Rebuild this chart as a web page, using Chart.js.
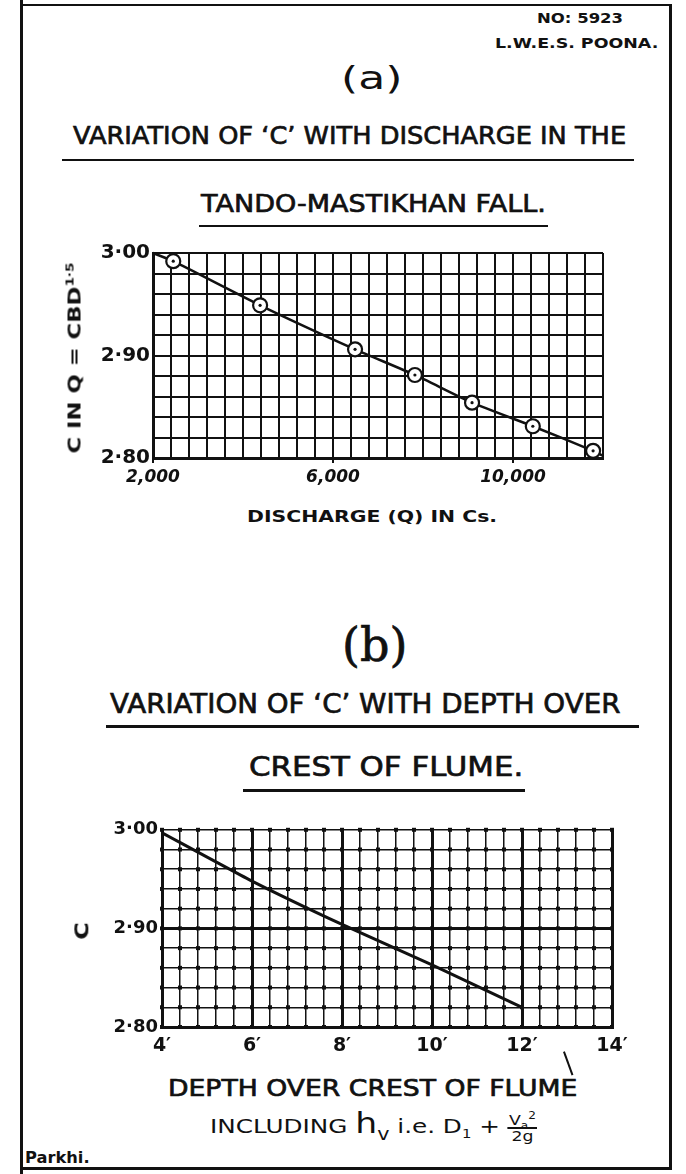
<!DOCTYPE html>
<html>
<head>
<meta charset="utf-8">
<title>Variation of C</title>
<script src="https://cdn.jsdelivr.net/npm/chart.js@4.4.0/dist/chart.umd.min.js"></script>
<style>
  html, body { margin: 0; padding: 0; background: #fff; }
  #sheet { position: relative; width: 686px; height: 1174px; overflow: hidden; background: #fff; color: #111; }
  .txt { position: absolute; white-space: nowrap; line-height: 1; transform-origin: 0 50%; }
  .heavy { -webkit-text-stroke: 0.7px #111; }
  .bar { position: absolute; background: #111; }
  canvas { position: absolute; }
  sup, sub { line-height: 0; }
  .frac { display: inline-block; vertical-align: middle; text-align: center; font-size: 70%; line-height: 1; }
  .frac span { display: block; }
  .frac .top { border-bottom: 2px solid #111; padding: 0 1px; }
</style>
</head>
<body>
<div id="sheet">
  <canvas id="chartA" width="650" height="260" style="left:20px;top:238px"></canvas>
  <canvas id="chartB" width="650" height="250" style="left:20px;top:815px"></canvas>
</div>
<script>
// (a) C against discharge, Tando-Mastikhan fall
const dischargeQ = [2450, 4380, 6490, 7820, 9090, 10440, 11780];
const coeffA = [2.992, 2.949, 2.906, 2.881, 2.854, 2.831, 2.807];
// the faired line runs from corner to corner of the grid
const lineEndsQ = [2000, 12000];
const lineEndsC = [3.000, 2.802];

// (b) C against depth over crest of flume (feet)
const depthFt = [4, 6, 8, 10, 12];
const coeffB = [2.997, 2.948, 2.904, 2.863, 2.820];

// tick labels
const dischargeTicks = [2000, 6000, 10000];
const depthTicks = [4, 6, 8, 10, 12, 14];
const coeffTicks = [2.80, 2.90, 3.00];

const INK = '#111';
const sheet = document.getElementById('sheet');

const inList = (v, list) => list.some(t => Math.abs(t - v) < 1e-6 * Math.max(1, Math.abs(t)));
const coeffLabel = v => inList(v, coeffTicks) ? v.toFixed(2).replace('.', '·') : '';

function text(html, x0, x1, yc, font, cls) {
  const el = document.createElement('div');
  el.className = 'txt' + (cls ? ' ' + cls : '');
  el.style.font = font;
  el.innerHTML = html;
  sheet.appendChild(el);
  el.style.left = x0 + 'px';
  const w = el.offsetWidth, h = el.offsetHeight;
  el.style.top = (yc - h / 2) + 'px';
  el.style.transform = 'scaleX(' + ((x1 - x0) / w) + ')';
  return el;
}

function vtext(html, cx, y0, y1, font) {
  const el = document.createElement('div');
  el.className = 'txt';
  el.style.font = font;
  el.innerHTML = html;
  sheet.appendChild(el);
  const w = el.offsetWidth, h = el.offsetHeight;
  el.style.left = (cx - w / 2) + 'px';
  el.style.top = ((y0 + y1) / 2 - h / 2) + 'px';
  el.style.transformOrigin = '50% 50%';
  el.style.transform = 'rotate(-90deg) scaleX(' + ((y1 - y0) / w) + ')';
  return el;
}

function bar(x, y, w, h, angle) {
  const el = document.createElement('div');
  el.className = 'bar';
  el.style.cssText = `left:${x}px;top:${y}px;width:${w}px;height:${h}px`;
  if (angle) { el.style.transformOrigin = '0 0'; el.style.transform = `rotate(${angle}deg)`; }
  sheet.appendChild(el);
}

// sheet border
bar(20, 4, 652, 2);
bar(20, 0, 3, 1174);
bar(669, 4, 3, 1166);
bar(20, 1167, 652, 3);

const SANS = '"DejaVu Sans", sans-serif';

text('NO: 5923', 537, 623, 18, `bold 14px ${SANS}`);
text('L.W.E.S. POONA.', 495, 658, 43, `bold 14px ${SANS}`);

text('(a)', 341, 403, 78, `32px ${SANS}`);
text('VARIATION OF ‘C’ WITH DISCHARGE IN THE', 73, 626, 135, `25px ${SANS}`, 'heavy');
bar(62, 159, 572, 2);
text('TANDO-MASTIKHAN FALL.', 201, 546, 203, `25px ${SANS}`, 'heavy');
bar(199, 225, 349, 2);
vtext('C IN Q = CBD<sup style="font-size:60%">1·5</sup>', 74, 262, 453, `bold 17px ${SANS}`);
text('DISCHARGE (Q) IN Cs.', 247, 497, 517, `bold 15px ${SANS}`);

text('(b)', 342, 407, 645, `46px "DejaVu Serif", serif`, 'heavy');
text('VARIATION OF ‘C’ WITH DEPTH OVER', 110, 620, 703, `27px ${SANS}`, 'heavy');
bar(106, 725, 533, 3);
text('CREST OF FLUME.', 249, 523, 766, `27px ${SANS}`, 'heavy');
bar(243, 789, 282, 3);
vtext('C', 81, 922, 940, `bold 20px ${SANS}`);
text('DEPTH OVER CREST OF FLUME', 168, 577, 1088, `23px ${SANS}`, 'heavy');
text('INCLUDING <span style="font-size:140%">h<sub style="font-size:60%">v</sub></span> i.e. D<sub style="font-size:60%">1</sub> + ' +
     '<span class="frac"><span class="top">V<sub style="font-size:70%">a</sub><sup style="font-size:70%">2</sup></span><span>2g</span></span>',
     210, 537, 1125, `20px ${SANS}`);
// pointer stroke from the scale down to the lettering
bar(563, 1052, 2, 25, -20);
text('Parkhi.', 25, 90, 1158, `bold 15px ${SANS}`);

// intersection beads on the (b) graph paper
const beads = {
  id: 'beads',
  beforeDatasetsDraw(chart) {
    const { ctx, scales: { x, y } } = chart;
    ctx.save();
    ctx.fillStyle = INK;
    x.ticks.forEach(tx => {
      const px = x.getPixelForValue(tx.value);
      y.ticks.forEach(ty => {
        const py = y.getPixelForValue(ty.value);
        ctx.fillRect(px - 2, py - 2, 4, 4);
      });
    });
    ctx.restore();
  }
};

Chart.defaults.font.family = '"DejaVu Sans", sans-serif';
Chart.defaults.color = INK;

new Chart(document.getElementById('chartA'), {
  type: 'scatter',
  data: {
    datasets: [
      {
        data: dischargeQ.map((q, i) => ({ x: q, y: coeffA[i] })),
        pointRadius: 1.6, pointBackgroundColor: INK, pointBorderWidth: 0, showLine: false
      },
      {
        data: dischargeQ.map((q, i) => ({ x: q, y: coeffA[i] })),
        pointRadius: 7, pointBackgroundColor: '#fff', pointBorderColor: INK, pointBorderWidth: 2.2, showLine: false
      },
      {
        data: [
          { x: lineEndsQ[0], y: lineEndsC[0] },
          ...dischargeQ.map((q, i) => ({ x: q, y: coeffA[i] })),
          { x: lineEndsQ[1], y: lineEndsC[1] }
        ],
        showLine: true, borderColor: INK, borderWidth: 2.5, pointRadius: 0, tension: 0.2
      }
    ]
  },
  options: {
    responsive: false,
    animation: false,
    clip: false,
    layout: { padding: { top: 12, right: 67, left: 0, bottom: 0 } },
    plugins: { legend: { display: false }, tooltip: { enabled: false } },
    scales: {
      x: {
        type: 'linear', min: 2000, max: 12000,
        afterFit: s => { s.height = 40; },
        border: { color: INK, width: 3 },
        grid: {
          color: INK, lineWidth: 2, drawTicks: true, tickLength: 5, tickWidth: 2,
          tickColor: c => inList(c.tick.value, dischargeTicks) ? INK : 'rgba(0,0,0,0)'
        },
        ticks: {
          stepSize: 400, maxTicksLimit: 100, autoSkip: false, maxRotation: 0, padding: 4,
          font: { size: 17, weight: 'bold', style: 'italic' },
          callback: v => inList(v, dischargeTicks) ? v.toLocaleString('en-US') : ''
        }
      },
      y: {
        type: 'linear', min: 2.8, max: 3.0,
        afterFit: s => { s.width = 133; },
        border: { color: INK, width: 3 },
        grid: { color: INK, lineWidth: 2, drawTicks: false },
        ticks: {
          stepSize: 0.02, maxTicksLimit: 100, autoSkip: false, padding: 3,
          font: { size: 20, weight: 'bold' },
          callback: coeffLabel
        }
      }
    }
  }
});

new Chart(document.getElementById('chartB'), {
  type: 'scatter',
  data: {
    datasets: [
      {
        data: depthFt.map((d, i) => ({ x: d, y: coeffB[i] })),
        showLine: true, borderColor: INK, borderWidth: 3, pointRadius: 0, tension: 0.15
      }
    ]
  },
  options: {
    responsive: false,
    animation: false,
    layout: { padding: { top: 10, right: 58, left: 0, bottom: 0 } },
    plugins: { legend: { display: false }, tooltip: { enabled: false } },
    scales: {
      x: {
        type: 'linear', min: 4, max: 14,
        afterFit: s => { s.height = 38; },
        border: { color: INK, width: 3 },
        grid: {
          color: INK, drawTicks: false,
          lineWidth: c => inList(c.tick.value, depthTicks) ? 3 : 1.5
        },
        ticks: {
          stepSize: 0.4, maxTicksLimit: 100, autoSkip: false, maxRotation: 0, padding: 8,
          font: { size: 19, weight: 'bold' },
          callback: v => inList(v, depthTicks) ? v + '′' : ''
        }
      },
      y: {
        type: 'linear', min: 2.8, max: 3.0,
        afterFit: s => { s.width = 142; },
        border: { color: INK, width: 3 },
        grid: {
          color: INK, drawTicks: false,
          lineWidth: c => Math.abs(c.tick.value - 2.9) < 1e-6 ? 3 : 1.5
        },
        ticks: {
          stepSize: 0.02, maxTicksLimit: 100, autoSkip: false, padding: 4,
          font: { size: 18, weight: 'bold' },
          callback: coeffLabel
        }
      }
    }
  },
  plugins: [beads]
});
</script>
</body>
</html>
